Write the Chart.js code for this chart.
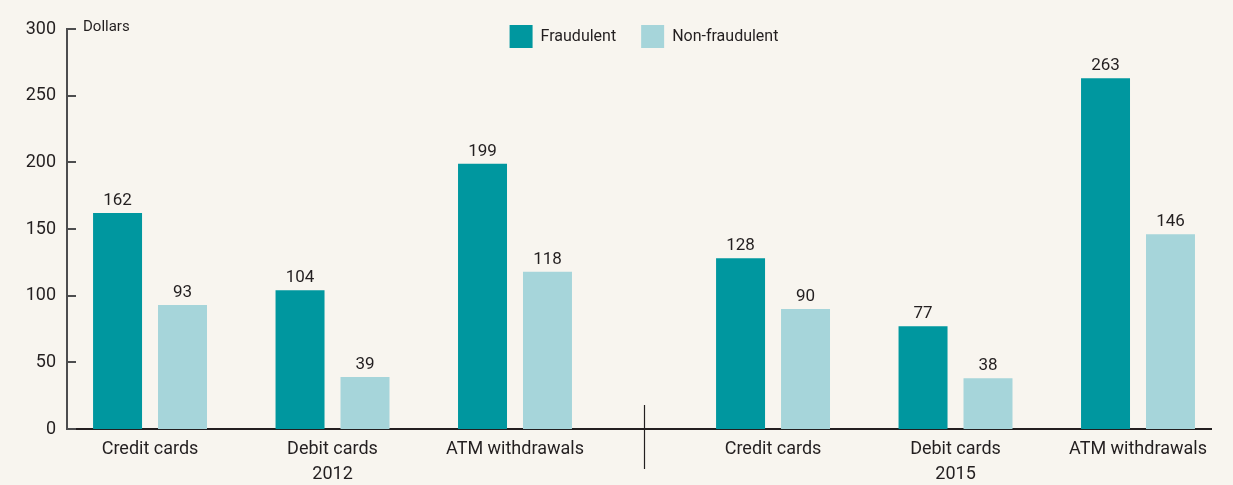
<!DOCTYPE html>
<html>
<head>
<meta charset="utf-8">
<script src="https://cdn.jsdelivr.net/npm/chart.js@4.4.0/dist/chart.umd.min.js"></script>
<style>
  html, body { margin: 0; padding: 0; background: #f8f5ef; }
  #wrap { width: 1233px; height: 485px; }
</style>
</head>
<body>
<div id="wrap"><canvas id="chart"></canvas></div>
<script>
// card types, year under the middle one of each group
const categories = ["Credit cards", "Debit cards", "ATM withdrawals", "Credit cards", "Debit cards", "ATM withdrawals"];
const years = ["", "2012", "", "", "2015", ""];
// average transaction, dollars
const fraudulent = [162, 104, 199, 128, 77, 263];
const nonFraudulent = [93, 39, 118, 90, 38, 146];
const yTicks = [0, 50, 100, 150, 200, 250, 300];

const FONT = 'Roboto, "Liberation Sans", sans-serif';
const TEXT = '#231f20';
const AXIS = '#4d4d4f';

// extra space between the 2012 and 2015 groups (in category widths)
const extraGap = 0.414;
const xPos = categories.map((c, i) => i + (i >= 3 ? extraGap : 0));

// legend sits in the top strip without pushing the plot down,
// centred a little right of the canvas middle like the original
const legendSpace = {
  id: 'legendSpace',
  beforeInit(chart) {
    const fit = chart.legend.fit;
    chart.legend.fit = function () {
      fit.call(this);
      this.height = 29;
    };
  },
  afterLayout(chart) {
    const lg = chart.legend;
    lg.left = 55;
    lg.right = chart.width;
    lg.width = lg.right - lg.left;
    lg.top = 0;
    lg.bottom = 60;
    lg.height = 60;
  }
};

// numbers above the bars
const barValues = {
  id: 'barValues',
  afterDatasetsDraw(chart) {
    const ctx = chart.ctx;
    ctx.save();
    ctx.font = '17px ' + FONT;
    ctx.fillStyle = TEXT;
    ctx.textAlign = 'center';
    ctx.textBaseline = 'alphabetic';
    chart.data.datasets.forEach((ds, di) => {
      chart.getDatasetMeta(di).data.forEach((bar, i) => {
        ctx.fillText(ds.data[i].y, bar.x, bar.y - 8);
      });
    });
    ctx.restore();
  }
};

// inward y ticks, the year separator and the unit label
const extras = {
  id: 'extras',
  afterDraw(chart) {
    const ctx = chart.ctx;
    const y = chart.scales.y;
    const x = chart.scales.x;
    const area = chart.chartArea;
    ctx.save();
    ctx.strokeStyle = AXIS;
    ctx.lineWidth = 2;
    yTicks.forEach(v => {
      const py = Math.round(y.getPixelForValue(v));
      ctx.beginPath();
      ctx.moveTo(area.left, py);
      ctx.lineTo(area.left + 9, py);
      ctx.stroke();
    });
    const sx = Math.round((x.getPixelForValue(xPos[2]) + x.getPixelForValue(xPos[3])) / 2) + 0.5;
    ctx.strokeStyle = '#231f20';
    ctx.lineWidth = 1.2;
    ctx.beginPath();
    ctx.moveTo(sx, area.bottom - 24);
    ctx.lineTo(sx, area.bottom + 40);
    ctx.stroke();
    ctx.font = '15px ' + FONT;
    ctx.fillStyle = TEXT;
    ctx.textBaseline = 'middle';
    ctx.textAlign = 'left';
    ctx.fillText('Dollars', area.left + 16, area.top - 2);
    ctx.restore();
  }
};

new Chart(document.getElementById('chart'), {
  type: 'bar',
  plugins: [legendSpace, barValues, extras],
  data: {
    datasets: [
      {
        label: 'Fraudulent',
        data: fraudulent.map((v, i) => ({ x: xPos[i], y: v })),
        backgroundColor: '#00979f',
        categoryPercentage: 0.712,
        barPercentage: 0.754
      },
      {
        label: 'Non-fraudulent',
        data: nonFraudulent.map((v, i) => ({ x: xPos[i], y: v })),
        backgroundColor: '#a6d5da',
        categoryPercentage: 0.712,
        barPercentage: 0.754
      }
    ]
  },
  options: {
    responsive: true,
    maintainAspectRatio: false,
    animation: false,
    layout: { padding: 0 },
    plugins: {
      tooltip: { enabled: false },
      legend: {
        position: 'top',
        align: 'center',
        labels: {
          boxWidth: 23,
          boxHeight: 23,
          padding: 25,
          color: TEXT,
          font: { family: FONT, size: 16 }
        }
      }
    },
    scales: {
      x: {
        type: 'linear',
        offset: false,
        min: -0.455,
        max: xPos[5] + 0.4,
        grid: { display: false, drawTicks: false },
        border: { display: true, color: '#231f20', width: 2 },
        afterBuildTicks(axis) {
          axis.ticks = xPos.map(v => ({ value: v }));
        },
        afterFit(axis) { axis.height = 56; },
        ticks: {
          autoSkip: false,
          maxRotation: 0,
          padding: 8,
          color: TEXT,
          font: { family: FONT, size: 18, lineHeight: 1.4 },
          callback(value, index) {
            return years[index] ? [categories[index], years[index]] : categories[index];
          }
        }
      },
      y: {
        min: 0,
        max: 300,
        grid: { display: false, drawTicks: false },
        border: { display: true, color: AXIS, width: 2 },
        afterFit(axis) { axis.width = 67; },
        afterBuildTicks(axis) {
          axis.ticks = yTicks.map(v => ({ value: v }));
        },
        ticks: {
          padding: 11,
          color: TEXT,
          font: { family: FONT, size: 18 }
        }
      },
      yRight: {
        position: 'right',
        grid: { display: false, drawTicks: false },
        border: { display: false },
        ticks: { display: false },
        afterFit(axis) { axis.width = 22; }
      }
    }
  }
});
</script>
</body>
</html>
